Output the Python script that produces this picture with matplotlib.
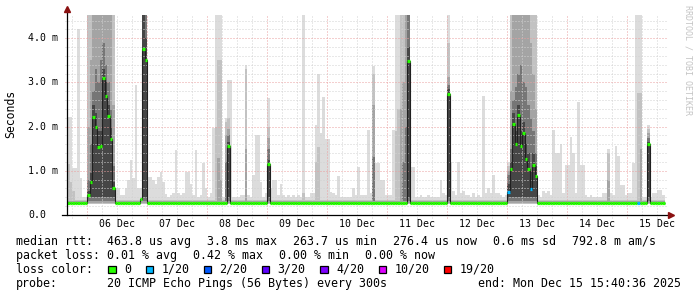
import numpy as np
import matplotlib
matplotlib.use("Agg")
import matplotlib.pyplot as plt

# ---------------- data (hourly bins, bin 0 = Dec 5 16:00) ----------------
n_bins = 239
base_median = 0.275          # ms, typical median rtt
base_top = [0.40, 0.34, 0.31, 0.0, 0.0]   # default smoke band tops (ms)
band_low = [0.25, 0.26, 0.27, 0.32, 0.40]  # band bottoms (ms)

# outer (lightest) smoke band tops for isolated spikes
spike_bins = [0, 1, 2, 3, 4, 5, 19, 20, 21, 22, 23, 24, 25, 26, 27, 28,
              32, 33, 34, 35, 36, 37, 38, 39, 41, 42, 43, 44, 45, 46, 47, 48, 49, 50,
              51, 53, 54, 55, 57, 58, 59, 60, 61, 63, 65, 69, 70, 71, 72, 74, 75, 76,
              77, 79, 81, 82, 83, 84, 85, 86, 88, 90, 92, 94, 97, 98, 99, 100, 101,
              102, 103, 104, 105, 106, 107, 108, 114, 115, 116, 117, 118, 119, 120,
              121, 122, 123, 124, 125, 126, 127, 128, 129, 130, 131, 132, 133, 134,
              135, 137, 138, 141, 144, 149, 150, 151, 153, 154, 155, 156, 157, 158,
              159, 160, 162, 164, 166, 167, 168, 169, 170, 171, 172, 173, 175,
              188, 190, 191, 192, 193, 194, 195, 196, 197, 198, 199, 200, 201, 202,
              203, 204, 205, 206, 207, 209, 214, 215, 216, 217, 218, 219, 220, 221,
              222, 223, 224, 225, 226, 227, 228, 229, 234, 235, 236, 237, 238]
spike_top = [2.22, 2.22, 1.06, 1.06, 4.20, 0.83, 0.61, 0.61, 0.45, 0.45, 0.62, 0.79, 1.24, 0.83, 2.94, 0.62,
             0.87, 0.87, 0.79, 0.71, 0.87, 0.98, 0.75, 0.47, 0.45, 0.50, 1.47, 0.50, 0.45, 0.50, 0.98, 0.98, 0.70, 0.45,
             1.47, 0.45, 1.18, 0.60, 0.50, 1.97, 4.60, 4.60, 4.60, 2.20, 3.05, 0.45, 0.45, 3.39, 0.45, 0.90, 1.81, 1.81,
             0.75, 0.50, 0.60, 0.79, 0.79, 0.45, 0.71, 0.45, 0.45, 0.45, 0.45, 4.60, 0.50, 0.50, 2.04, 3.20, 1.86,
             2.66, 1.73, 1.73, 0.53, 0.50, 0.45, 0.88, 0.60, 0.45, 1.09, 0.45, 0.45, 0.45, 1.92,
             0.50, 3.36, 1.17, 1.17, 0.80, 0.80, 0.45, 0.45, 0.45, 1.92, 4.60, 4.60, 4.60, 4.60,
             4.60, 1.09, 1.09, 0.45, 0.45, 0.79, 0.50, 0.45, 1.21, 0.55, 0.45, 1.21, 0.50, 0.55,
             0.45, 0.45, 0.50, 0.45, 2.69, 0.50, 0.62, 0.50, 0.90, 0.50, 0.50, 0.45, 0.45,
             0.45, 0.55, 0.50, 0.55, 0.45, 1.92, 1.40, 1.40, 1.61, 0.50, 1.13, 1.13, 1.77, 1.40,
             0.50, 2.56, 1.13, 1.13, 0.45, 0.45, 0.50, 0.50, 1.49, 0.50, 0.45, 1.56, 1.33, 0.68,
             0.68, 0.45, 0.50, 0.50, 1.18, 4.60, 4.60, 4.60, 0.50, 0.50, 0.57, 0.57, 0.45]

# second band (p3..p18) tops where visibly raised
mid_bins = [0, 1, 2, 59, 60, 61, 63, 71, 94, 99, 100, 122, 131, 132, 133, 134, 135, 216, 228, 229]
mid_top = [1.15, 0.75, 0.55, 2.00, 3.50, 3.50, 2.10, 3.30, 0.50, 1.20, 1.53, 3.20, 1.90, 2.40, 4.60, 4.60, 4.60, 1.40, 2.75, 2.75]

# third band (p5..p16) tops
inner_bins = [60, 61, 63, 71, 122, 133, 134, 135, 216, 229]
inner_top = [1.30, 0.80, 1.80, 1.50, 2.50, 2.40, 3.00, 4.60, 0.80, 1.50]

# fourth band (p7..p14) tops
core_bins = [63, 122, 134, 135]
core_top = [1.20, 1.32, 1.20, 2.00]

# elevated-median hours: median and all five band tops (ms)
event_bins = [8, 9, 10, 11, 12, 13, 14, 15, 16, 17, 18, 29, 30, 31, 64, 80, 136, 152,
              176, 177, 178, 179, 180, 181, 182, 183, 184, 185, 186, 187, 232]
event_median = [0.45, 0.75, 2.22, 2.00, 1.54, 1.56, 3.09, 2.69, 2.24, 1.73, 0.61, 0.36, 3.76, 3.50,
                1.55, 1.15, 3.49, 2.74,
                0.53, 1.05, 2.06, 1.61, 2.26, 1.56, 1.85, 1.27, 1.04, 0.58, 1.12, 0.88, 1.60]
event_t1 = [4.6, 4.6, 4.6, 4.6, 4.6, 4.6, 4.6, 4.6, 4.6, 4.6, 4.6, 0.62, 4.6, 4.6,
            3.05, 2.64, 4.6, 4.6,
            1.2, 4.6, 4.6, 4.6, 4.6, 4.6, 4.6, 4.6, 4.6, 4.6, 4.6, 4.6, 2.04]
event_t2 = [4.6, 4.6, 4.6, 4.6, 4.6, 4.6, 4.6, 4.6, 4.6, 4.6, 4.6, 0.40, 4.6, 4.6,
            2.20, 2.00, 4.6, 3.9,
            1.1, 4.6, 4.6, 4.6, 4.6, 4.6, 4.6, 4.6, 4.6, 4.6, 4.6, 4.6, 1.95]
event_t3 = [2.0, 3.5, 4.6, 4.6, 4.6, 4.6, 4.6, 4.6, 4.6, 4.6, 2.5, 0.35, 4.6, 4.6,
            1.95, 1.75, 4.6, 3.13,
            1.0, 2.8, 4.6, 4.6, 4.6, 4.6, 4.6, 4.6, 4.6, 3.9, 3.2, 2.4, 1.85]
event_t4 = [0.8, 1.6, 2.8, 3.3, 3.0, 3.5, 3.9, 3.4, 3.0, 2.4, 1.1, 0.0, 4.6, 4.6,
            1.80, 1.50, 4.6, 2.95,
            0.9, 1.5, 2.6, 2.9, 3.2, 3.4, 3.0, 2.9, 2.5, 2.2, 1.9, 1.4, 1.75]
event_t5 = [0.55, 0.95, 2.5, 2.3, 1.9, 1.9, 3.3, 3.0, 2.5, 2.0, 0.75, 0.0, 4.6, 4.0,
            1.65, 1.25, 3.8, 2.85,
            0.7, 1.2, 2.3, 1.9, 2.5, 1.9, 2.1, 1.6, 1.4, 1.0, 1.4, 1.1, 1.65]

# hours with 1/20 packet loss
loss1_bins = [176, 185, 228]

loss_labels = ["0", "1/20", "2/20", "3/20", "4/20", "10/20", "19/20"]
loss_colors = ["#26ff00", "#00b8ff", "#0059ff", "#5e00ff", "#7e00ff", "#dd00ff", "#ff0000"]
day_labels = ["06 Dec", "07 Dec", "08 Dec", "09 Dec", "10 Dec", "11 Dec", "12 Dec", "13 Dec", "14 Dec", "15 Dec"]
ytick_vals = [0, 1, 2, 3, 4]
ytick_labels = ["0.0", "1.0 m", "2.0 m", "3.0 m", "4.0 m"]

median_items = ["463.8 us avg", "3.8 ms max", "263.7 us min", "276.4 us now", "0.6 ms sd", "792.8 m am/s"]
loss_items = ["0.01 % avg", "0.42 % max", "0.00 % min", "0.00 % now"]
probe_text = "20 ICMP Echo Pings (56 Bytes) every 300s"
end_text = "end: Mon Dec 15 15:40:36 2025"

# ---------------- assemble per-hour arrays ----------------
bins = np.arange(n_bins)
median = np.full(n_bins, base_median)
tops = [np.full(n_bins, t) for t in base_top]
for b, v in zip(spike_bins, spike_top):
    tops[0][b] = v
for b, v in zip(mid_bins, mid_top):
    tops[1][b] = v
for b, v in zip(inner_bins, inner_top):
    tops[2][b] = v
for b, v in zip(core_bins, core_top):
    tops[3][b] = v
for k, b in enumerate(event_bins):
    median[b] = event_median[k]
    for j, arr in enumerate([event_t1, event_t2, event_t3, event_t4, event_t5]):
        tops[j][b] = arr[k]
mcolor = [loss_colors[0]] * n_bins
for b in loss1_bins:
    mcolor[b] = loss_colors[1]

# ---------------- figure ----------------
W, H = 697, 297
fig = plt.figure(figsize=(W / 100, H / 100), dpi=100)
fig.patch.set_facecolor("white")
ax = fig.add_axes([67 / W, (H - 215) / H, 601 / W, 200 / H])
ax.set_facecolor("white")
xmax = 240.4
ymax = 4.525
ax.set_xlim(0, xmax)
ax.set_ylim(0, ymax)
for s in ax.spines.values():
    s.set_visible(False)

shades = ["#dcdcdc", "#c2c2c2", "#a4a4a4", "#767676", "#464646"]
for j in range(5):
    h = np.clip(tops[j] - band_low[j], 0, None)
    ax.bar(bins, h, bottom=band_low[j], width=1.0, align="edge", color=shades[j],
           linewidth=0, antialiased=False, zorder=1 + j * 0.1)

# grid (dotted), drawn over smoke
mono = "DejaVu Sans Mono"
gray_c = "#d2d2d2"
red_c = "#eaa0a0"
ls = (0, (1, 2))
stub = 3 * ymax / 200
hstub = 2.5 / 2.5
for hx in np.arange(2, xmax, 6):
    is_major = (hx - 8) % 24 == 0
    lc = ax.vlines(hx, -stub, ymax, colors=red_c if is_major else gray_c, linewidth=0.72,
                   linestyles=ls, zorder=3, clip_on=False)
    lc.set_snap(True)
for yv in np.arange(0.2, ymax, 0.2):
    is_major = abs(yv - round(yv)) < 1e-6
    lc = ax.hlines(yv, -hstub, xmax, colors=red_c if is_major else gray_c, linewidth=0.72,
                   linestyles=ls, zorder=3, clip_on=False)
    lc.set_snap(True)

# median: thin dark step line + loss-coloured dashes
edges = np.arange(n_bins + 1)
ax.stairs(median, edges, baseline=None, color="#202020", linewidth=0.8, zorder=4)
ax.hlines(median, bins, bins + 1, colors=mcolor, linewidth=2.3, zorder=5)

# axes lines and arrows
ax.plot([-2, 240.8], [0, 0], color="#000000", linewidth=0.9, clip_on=False, zorder=6)
ax.plot([0, 0], [0, 4.62], color="#000000", linewidth=0.9, clip_on=False, zorder=6)
ax.plot([241.6], [0], marker=">", markersize=4.5, color="#8a1010", clip_on=False, zorder=7, linestyle="none")
ax.plot([0], [4.66], marker="^", markersize=4.5, color="#8a1010", clip_on=False, zorder=7, linestyle="none")

# tick labels
ax.set_xticks(np.arange(20, 240, 24))
ax.set_xticklabels(day_labels, fontfamily=mono, fontsize=7.1)
ax.tick_params(axis="x", length=0, pad=3.2)
ax.set_yticks([])
ytrans = ax.get_yaxis_transform()
for yv, lab in zip(ytick_vals, ytick_labels):
    ax.text(-39 / 601, yv, lab, transform=ytrans, ha="left", va="center",
            fontfamily=mono, fontsize=7.1, color="#000000")

fig.text(11 / W, 1 - 114 / H, "Seconds", rotation=90, ha="center", va="center",
         fontfamily=mono, fontsize=8.3)
fig.text(688 / W, 1 - 60 / H, "RRDTOOL / TOBI OETIKER", rotation=270, ha="center", va="center",
         fontfamily=mono, fontsize=6.0, color="#c4c4c4")

# legend block
cw = 7.02
gap = 15.7
fs = 8.4


def put(x, y, s, **kw):
    fig.text(x / W, 1 - y / H, s, ha="left", va="center", fontfamily=mono, fontsize=fs, **kw)


y1, y2, y3, y4 = 241.3, 255.3, 269.3, 283.3
put(16, y1, "median rtt:")
x = 107.3
for it in median_items:
    put(x, y1, it)
    x += len(it) * cw + gap
put(16, y2, "packet loss:")
x = 107.3
for it in loss_items:
    put(x, y2, it)
    x += len(it) * cw + gap
put(16, y3, "loss color:")
x = 108.3
for lab, col in zip(loss_labels, loss_colors):
    fig.patches.append(plt.Rectangle((x / W, 1 - (y3 + 3.8) / H), 7.4 / W, 7.6 / H,
                                     transform=fig.transFigure, facecolor=col,
                                     edgecolor="#000000", linewidth=0.9))
    put(x + 15.7, y3, lab)
    x = x + 15.7 + len(lab) * cw + 14.5
put(16, y4, "probe:")
put(107.3, y4, probe_text)
fig.text(681.5 / W, 1 - y4 / H, end_text, ha="right", va="center", fontfamily=mono, fontsize=fs)

fig.savefig("out.png", dpi=100, facecolor="white")
